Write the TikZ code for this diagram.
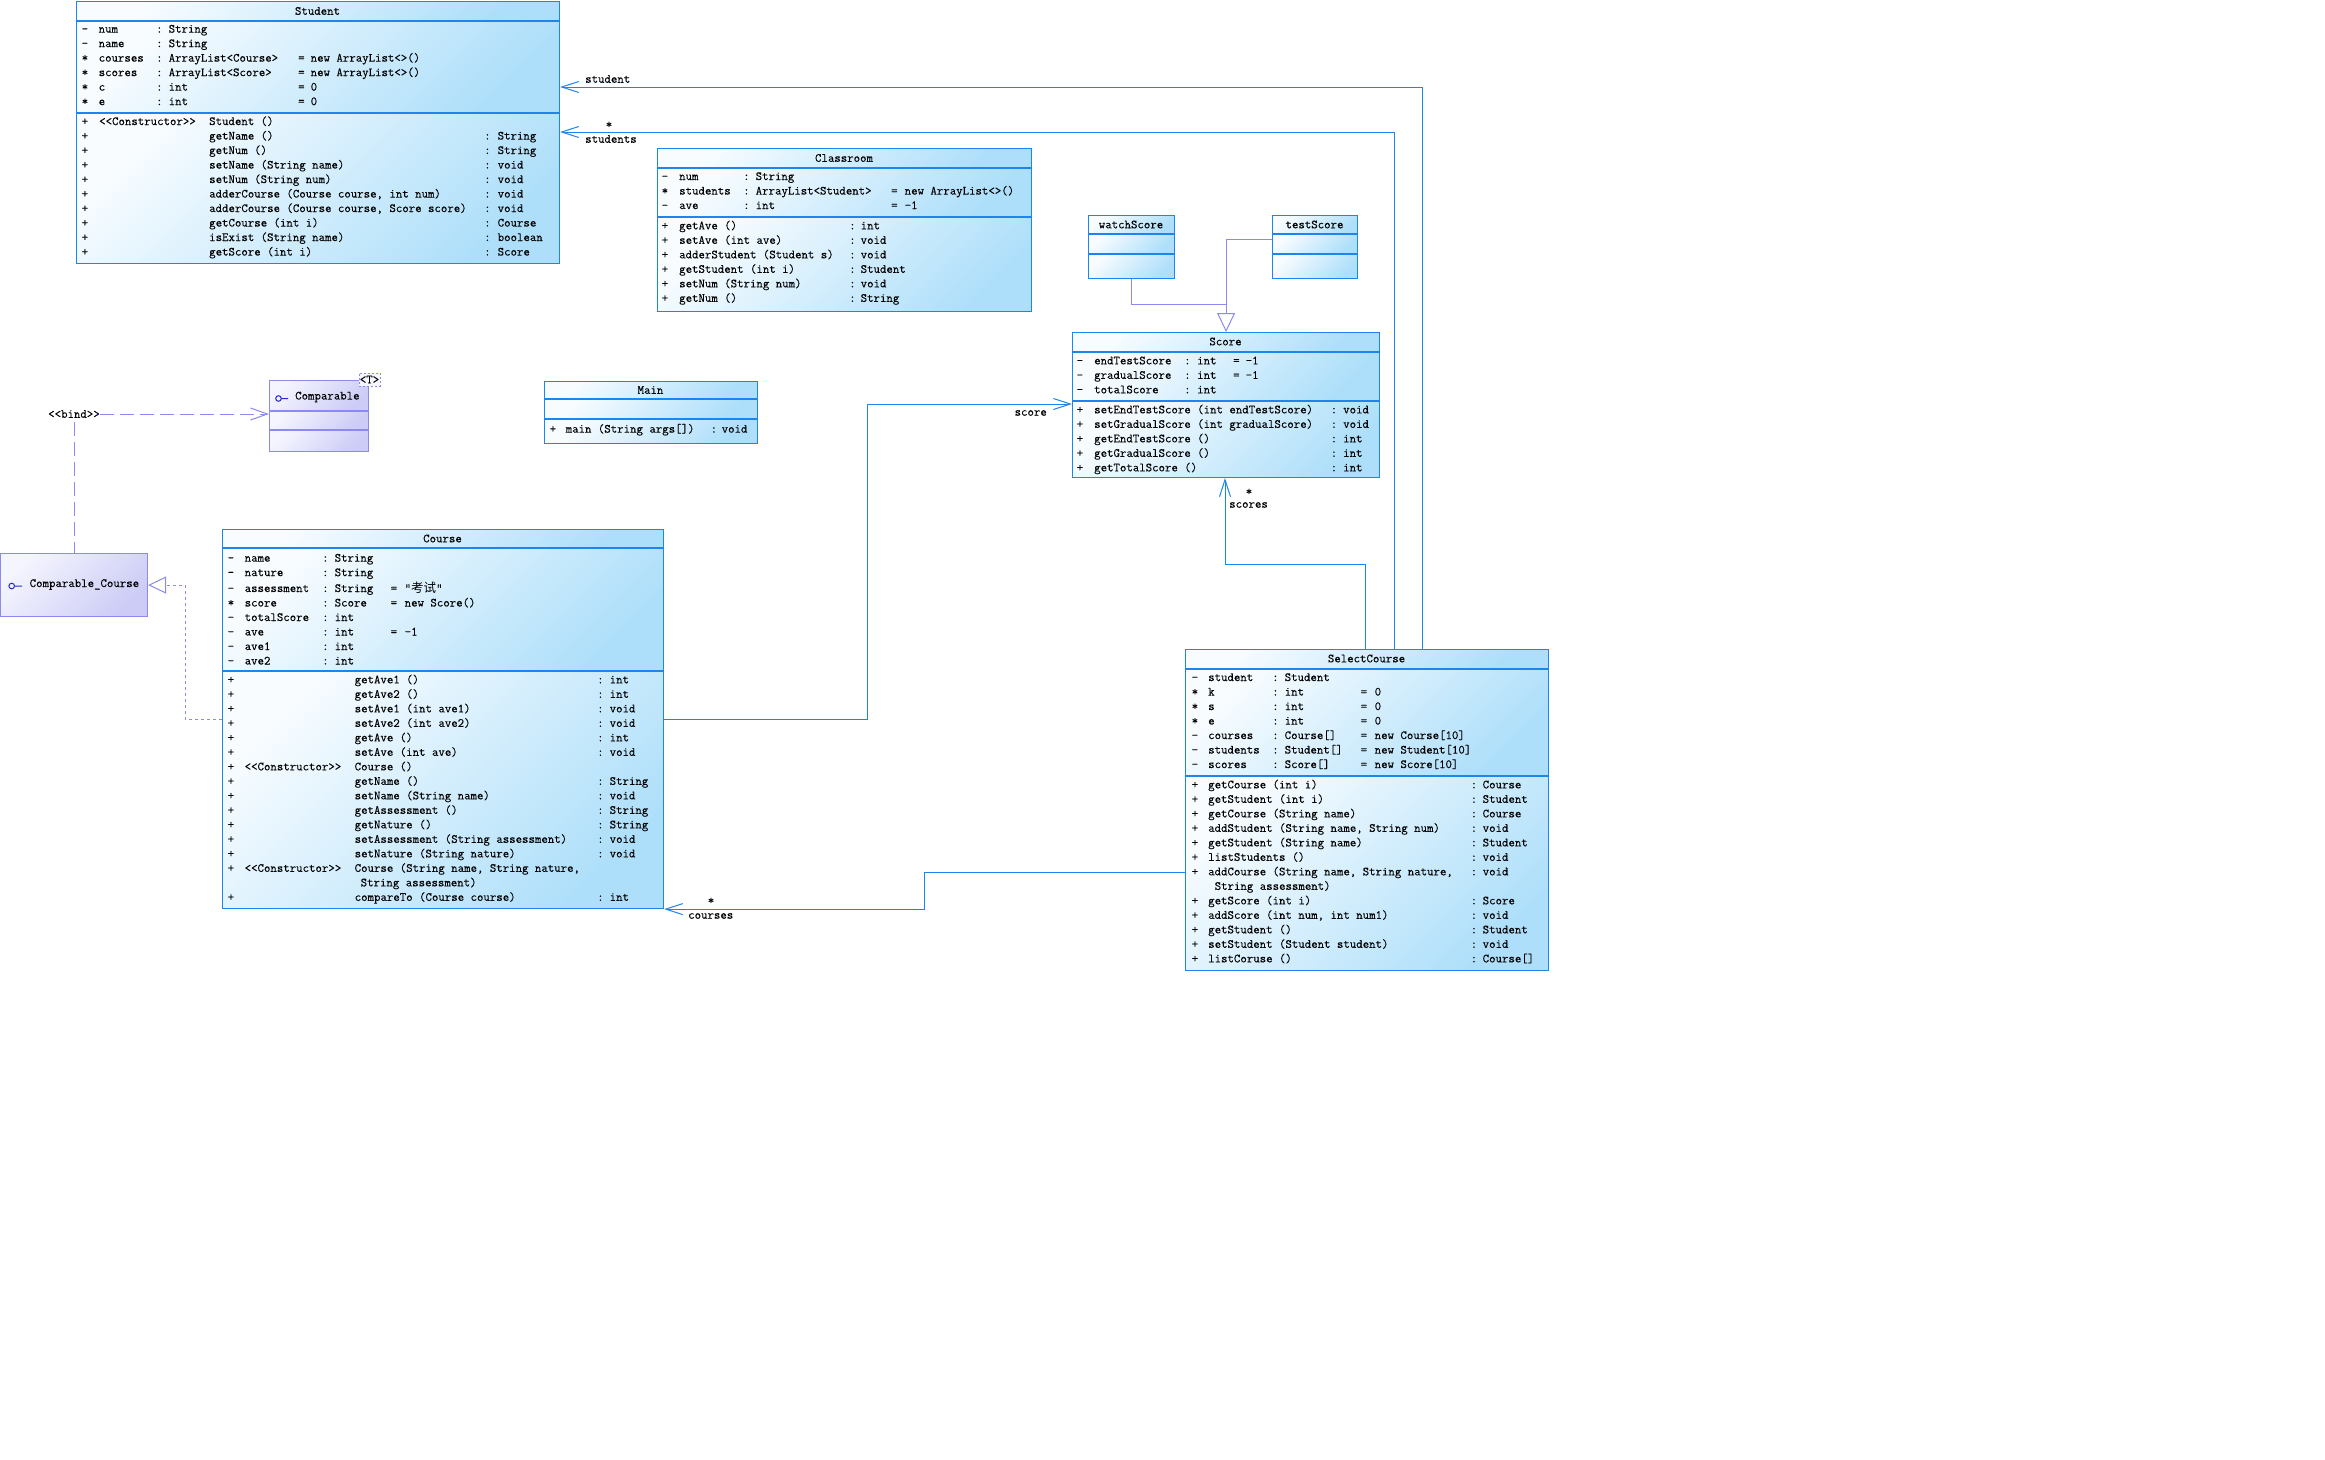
\documentclass[tikz,border=0pt]{standalone}
\usepackage{fontspec}
\setmonofont{Latin Modern Mono}[FakeBold=0.2]
\newfontfamily\cjk{Noto Sans CJK SC}
\usetikzlibrary{arrows.meta}
\definecolor{bb}{HTML}{1C86EE}
\definecolor{bt}{HTML}{F8FCFF}
\definecolor{bm}{HTML}{AEDFFA}
\definecolor{pb}{HTML}{8A8AF0}
\definecolor{ptop}{HTML}{F5F5FF}
\definecolor{pm}{HTML}{CCCCF6}
\definecolor{pl}{HTML}{2B2BC8}
\newcommand\uf{\ttfamily\fontsize{12.5}{14.5}\selectfont}
\newcommand\cT[2]{\rlap{\hspace*{#1pt}#2}}
\newcommand\cR[1]{\hbox{\strut#1}}
\newcommand\comp[1]{\vbox{\uf#1}}
\newcommand\cA[4]{\cR{\cT{0}{#1}\cT{\oa}{#2}\cT{\ob}{:}\cT{\oc}{#3}\if\relax\detokenize{#4}\relax\else\cT{\od}{=}\cT{\oe}{#4}\fi}}
\newcommand\cM[3]{\cR{\cT{0}{+}\if\relax\detokenize{#1}\relax\else\cT{\ma}{#1}\fi\cT{\mb}{#2}\if\relax\detokenize{#3}\relax\else\cT{\mc}{:}\cT{\md}{#3}\fi}}
\newcommand\umlbox[8]{%
  \shade[f#8] (#2,#3) rectangle (#4,#6);
  \shade[f#8] (#2,#6) rectangle (#4,#7);
  \shade[f#8] (#2,#7) rectangle (#4,#5);
  \node[#8box,minimum width={#4-#2},minimum height={#5-#3}] (#1) at (#2,#3) {};
  \draw[sep#8] (#2,#6) -- (#4,#6);
  \draw[sep#8] (#2,#7) -- (#4,#7);
}
\begin{document}
\begin{tikzpicture}[x=1pt,y=-1pt,
  bbox/.style={draw=bb,line width=1.1pt,inner sep=0pt,anchor=north west},
  pbox/.style={draw=pb,line width=1.1pt,inner sep=0pt,anchor=north west},
  fb/.style={top color=bt,bottom color=bm,shading angle=45},
  fp/.style={top color=ptop,bottom color=pm,shading angle=45},
  sepb/.style={draw=bb,line width=1.1pt},
  sepp/.style={draw=pb,line width=1.1pt},
  txt/.style={anchor=north west,inner sep=0pt},
  ttl/.style={inner sep=0pt,font=\uf},
  lab/.style={inner sep=0pt,font=\uf},
  assoc/.style={draw=bb,line width=1pt,-{Straight Barb[length=17pt,width=11pt]}},
  gen/.style={draw=pb,line width=1pt},
  real/.style={draw=pb,line width=1pt,dash pattern=on 3pt off 3pt},
  bindl/.style={draw=pb,line width=1pt,dash pattern=on 14pt off 6pt},
]
\useasboundingbox (0,0) rectangle (2325,1459);
\fill[white] (0,0) rectangle (2325,1459);

% ---------- class frames ----------
\umlbox{stu}{76}{1}{559}{263}{21}{113}{b}
\umlbox{cls}{657}{148}{1031}{311}{168}{217}{b}
\umlbox{wsc}{1088}{215}{1174}{278}{234}{254}{b}
\umlbox{tsc}{1272}{215}{1357}{278}{234}{254}{b}
\umlbox{scr}{1072}{332}{1379}{477}{352}{401}{b}
\umlbox{mnc}{544}{381}{757}{443}{399}{419}{b}
\umlbox{cmp}{269}{380}{368}{451}{411}{430}{p}
\umlbox{crs}{222}{529}{663}{908}{548}{671}{b}
\umlbox{sel}{1185}{649}{1548}{970}{669}{776}{b}
\shade[fp] (0,553) rectangle (147,616);
\node[pbox,minimum width=147,minimum height=63] (cmpc) at (0,553) {};

% ---------- titles ----------
\node[ttl] (stuT) at (317.5,11) {Student};
\node[ttl] (clsT) at (844,158) {Classroom};
\node[ttl] (wscT) at (1131,224.5) {watchScore};
\node[ttl] (tscT) at (1314.5,224.5) {testScore};
\node[ttl] (scrT) at (1225.5,341.5) {Score};
\node[ttl] (mncT) at (650.5,390) {Main};
\node[ttl] (crsT) at (442.5,538.5) {Course};
\node[ttl] (selT) at (1366.5,658.5) {SelectCourse};
\node[ttl,anchor=west] (cmpT) at (295,397) {Comparable};
\node[ttl,anchor=west] (cmpcT) at (29.5,584.5) {Comparable\_Course};
\node[draw=pb,line width=0.9pt,dash pattern=on 2pt off 2pt,fill=ptop,inner sep=0pt,minimum width=21,minimum height=13,font=\uf] (tpar) at (369.5,379.5) {<T>};
\draw[pl,line width=1pt] (278.5,398.5) circle (2.8) (281.3,398.5) -- (288,398.5);
\draw[pl,line width=1pt] (11.7,586) circle (2.8) (14.5,586) -- (22,586);

% ---------- Student ----------
\node[txt] (stuA) at (81,22.3) {\comp{\def\oa{17}\def\ob{74.5}\def\oc{87}\def\od{216.5}\def\oe{229}
\cA{-}{num}{String}{}
\cA{-}{name}{String}{}
\cA{*}{courses}{ArrayList<Course>}{new ArrayList<>()}
\cA{*}{scores}{ArrayList<Score>}{new ArrayList<>()}
\cA{*}{c}{int}{0}
\cA{*}{e}{int}{0}}};
\node[txt] (stuM) at (81,114.7) {\comp{\def\ma{17.5}\def\mb{127.5}\def\mc{402.5}\def\md{416}
\cM{<<Constructor>>}{Student ()}{}
\cM{}{getName ()}{String}
\cM{}{getNum ()}{String}
\cM{}{setName (String name)}{void}
\cM{}{setNum (String num)}{void}
\cM{}{adderCourse (Course course, int num)}{void}
\cM{}{adderCourse (Course course, Score score)}{void}
\cM{}{getCourse (int i)}{Course}
\cM{}{isExist (String name)}{boolean}
\cM{}{getScore (int i)}{Score}}};

% ---------- Classroom ----------
\node[txt] (clsA) at (661,169.7) {\comp{\def\oa{17.5}\def\ob{81.5}\def\oc{94}\def\od{229.5}\def\oe{243}
\cA{-}{num}{String}{}
\cA{*}{students}{ArrayList<Student>}{new ArrayList<>()}
\cA{-}{ave}{int}{-1}}};
\node[txt] (clsM) at (661,219) {\comp{\def\ma{0}\def\mb{17.5}\def\mc{187.5}\def\md{199}
\cM{}{getAve ()}{int}
\cM{}{setAve (int ave)}{void}
\cM{}{adderStudent (Student s)}{void}
\cM{}{getStudent (int i)}{Student}
\cM{}{setNum (String num)}{void}
\cM{}{getNum ()}{String}}};

% ---------- Score ----------
\node[txt] (scrA) at (1076,354) {\comp{\def\oa{17.5}\def\ob{107.5}\def\oc{120.5}\def\od{156.5}\def\oe{169}
\cA{-}{endTestScore}{int}{-1}
\cA{-}{gradualScore}{int}{-1}
\cA{-}{totalScore}{int}{}}};
\node[txt] (scrM) at (1076,403) {\comp{\def\ma{0}\def\mb{17.5}\def\mc{254}\def\md{266.5}
\cM{}{setEndTestScore (int endTestScore)}{void}
\cM{}{setGradualScore (int gradualScore)}{void}
\cM{}{getEndTestScore ()}{int}
\cM{}{getGradualScore ()}{int}
\cM{}{getTotalScore ()}{int}}};

% ---------- Main ----------
\node[txt] (mncM) at (549,422.3) {\comp{\def\ma{0}\def\mb{16}\def\mc{161}\def\md{172}
\cM{}{main (String args[])}{void}}};

% ---------- Course ----------
\node[txt] (crsA) at (227,551.3) {\comp{\def\oa{17}\def\ob{94.5}\def\oc{107}\def\od{163}\def\oe{177}
\cA{-}{name}{String}{}
\cA{-}{nature}{String}{}
\cA{-}{assessment}{String}{“{\cjk 考试}”}
\cA{*}{score}{Score}{new Score()}
\cA{-}{totalScore}{int}{}
\cA{-}{ave}{int}{-1}
\cA{-}{ave1}{int}{}
\cA{-}{ave2}{int}{}}};
\node[txt] (crsM) at (227,673) {\comp{\def\ma{17}\def\mb{127}\def\mc{369.5}\def\md{382}
\cM{}{getAve1 ()}{int}
\cM{}{getAve2 ()}{int}
\cM{}{setAve1 (int ave1)}{void}
\cM{}{setAve2 (int ave2)}{void}
\cM{}{getAve ()}{int}
\cM{}{setAve (int ave)}{void}
\cM{<<Constructor>>}{Course ()}{}
\cM{}{getName ()}{String}
\cM{}{setName (String name)}{void}
\cM{}{getAssessment ()}{String}
\cM{}{getNature ()}{String}
\cM{}{setAssessment (String assessment)}{void}
\cM{}{setNature (String nature)}{void}
\cM{<<Constructor>>}{Course (String name, String nature,}{}
\cR{\cT{133}{String assessment)}}
\cM{}{compareTo (Course course)}{int}}};

% ---------- SelectCourse ----------
\node[txt] (selA) at (1191,670.7) {\comp{\def\oa{16.5}\def\ob{80.5}\def\oc{93}\def\od{169}\def\oe{183}
\cA{-}{student}{Student}{}
\cA{*}{k}{int}{0}
\cA{*}{s}{int}{0}
\cA{*}{e}{int}{0}
\cA{-}{courses}{Course[]}{new Course[10]}
\cA{-}{students}{Student[]}{new Student[10]}
\cA{-}{scores}{Score[]}{new Score[10]}}};
\node[txt] (selM) at (1191,778) {\comp{\def\ma{0}\def\mb{16.5}\def\mc{279}\def\md{291}
\cM{}{getCourse (int i)}{Course}
\cM{}{getStudent (int i)}{Student}
\cM{}{getCourse (String name)}{Course}
\cM{}{addStudent (String name, String num)}{void}
\cM{}{getStudent (String name)}{Student}
\cM{}{listStudents ()}{void}
\cM{}{addCourse (String name, String nature,}{void}
\cR{\cT{23}{String assessment)}}
\cM{}{getScore (int i)}{Score}
\cM{}{addScore (int num, int num1)}{void}
\cM{}{getStudent ()}{Student}
\cM{}{setStudent (Student student)}{void}
\cM{}{listCoruse ()}{Course[]}}};

% ---------- connectors ----------
\node[lab] (bnd) at (74,414) {<<bind>>};
\draw[bindl,-{Straight Barb[length=17pt,width=12pt]}] (bnd.east) -- (bnd.east -| cmp.west);
\draw[bindl] ([yshift=-4]bnd.south) -- (bnd.south |- cmpc.north);

\draw[real,-{Triangle[open,length=18pt,width=17pt,fill=white]}] ([yshift=-190]crs.north west) -| ([xshift=37]cmpc.east) -- (cmpc.east);

\draw[gen,-{Triangle[open,length=19pt,width=18pt,fill=white]}] (wsc.south) |- ([yshift=28]scr.north) -- (scr.north);
\draw[gen] ([yshift=-24]tsc.north west) -| ([yshift=28]scr.north);

\draw[assoc] ([xshift=237]sel.north west) |- ([yshift=-86]stu.north east);
\draw[assoc] ([xshift=209]sel.north west) |- ([yshift=-131]stu.north east);
\draw[assoc] ([xshift=180]sel.north west) |- ([xshift=153,yshift=-86]scr.south west) -- ([xshift=153]scr.south west);
\draw[assoc] ([yshift=-190]crs.north east) -| ([xshift=-204.5,yshift=-72]scr.north west) -- ([yshift=-72]scr.north west);
\draw[assoc] ([yshift=-223]sel.north west) -| ([xshift=260]crs.south east) -- (crs.south east);

\node[lab,anchor=west] (lst) at (585,79) {student};
\node[lab] (lstm) at (609,125) {*};
\node[lab,anchor=west] (lsts) at (585,139) {students};
\node[lab,anchor=east] (lsc) at (1047,413) {score};
\node[lab] (lscm) at (1249,492) {*};
\node[lab,anchor=west] (lscs) at (1229,505) {scores};
\node[lab] (lcrm) at (711,901) {*};
\node[lab,anchor=west] (lcrs) at (688,916) {courses};
\end{tikzpicture}
\end{document}
